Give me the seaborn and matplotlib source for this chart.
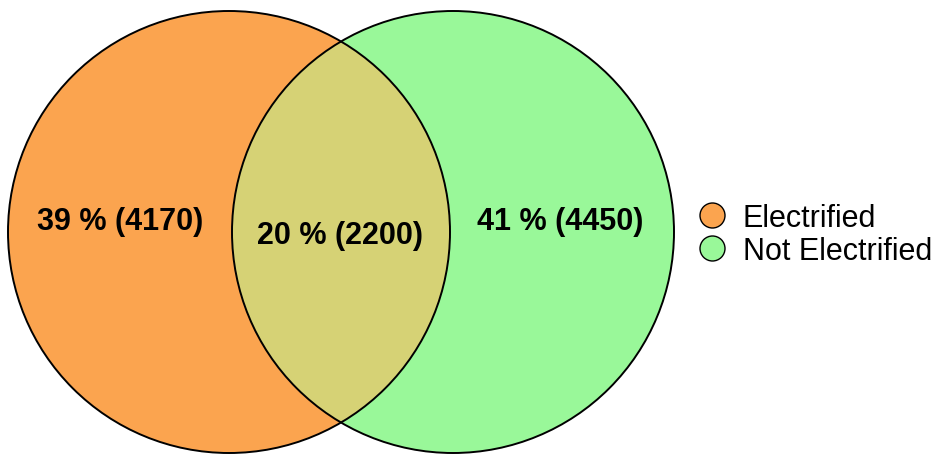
import matplotlib
matplotlib.use("Agg")
import matplotlib.pyplot as plt
from matplotlib.patches import Circle
from matplotlib.lines import Line2D
import seaborn as sns

# Set sizes: exclusive part of each group and the shared part
groups = ["Electrified", "Not Electrified"]
only_counts = [4170, 4450]
shared_count = 2200

colors = ["#FBA44F", "#99F899"]
overlap_color = "#D6D275"

sns.set_theme(style="white")
plt.rcParams["font.family"] = ["Liberation Sans", "DejaVu Sans"]

W, H = 933, 456
fig = plt.figure(figsize=(W / 100, H / 100), dpi=100)
ax = fig.add_axes([0, 0, 1, 1])
ax.set_xlim(0, W)
ax.set_ylim(H, 0)
ax.set_aspect("equal")
ax.axis("off")

# Unweighted two-set layout: equal circles
radius = 221
cy = 233
centers = [(229, cy), (453, cy)]

left = Circle(centers[0], radius, facecolor=colors[0], edgecolor="none", zorder=1)
right = Circle(centers[1], radius, facecolor=colors[1], edgecolor="none", zorder=1)
ax.add_patch(left)
ax.add_patch(right)

# Shared region: right circle clipped by the left one
inter = Circle(centers[1], radius, facecolor=overlap_color, edgecolor="none", zorder=2)
ax.add_patch(inter)
inter.set_clip_path(left)

for c in centers:
    ax.add_patch(Circle(c, radius, facecolor="none", edgecolor="black", linewidth=1.4, zorder=3))

total = only_counts[0] + only_counts[1] + shared_count
values = [only_counts[0], shared_count, only_counts[1]]
label_pos = [(120, 230), (340, 244), (560, 230)]
for v, (x, y) in zip(values, label_pos):
    ax.text(x, y, f"{round(100 * v / total)} % ({v})", ha="center", va="baseline",
            fontsize=22, fontweight="bold", color="black", zorder=4)

handles = [Line2D([], [], linestyle="none", marker="o", markersize=18,
                  markerfacecolor=col, markeredgecolor="black", markeredgewidth=1.0)
           for col in colors]
ax.legend(handles, groups, loc="center left", bbox_to_anchor=(696.7, 235.5),
          bbox_transform=ax.transData, frameon=False, fontsize=22, labelcolor="black",
          handlelength=1.0, handletextpad=0.51, borderpad=0, borderaxespad=0,
          labelspacing=0.1)

fig.savefig("out.png", dpi=100)
